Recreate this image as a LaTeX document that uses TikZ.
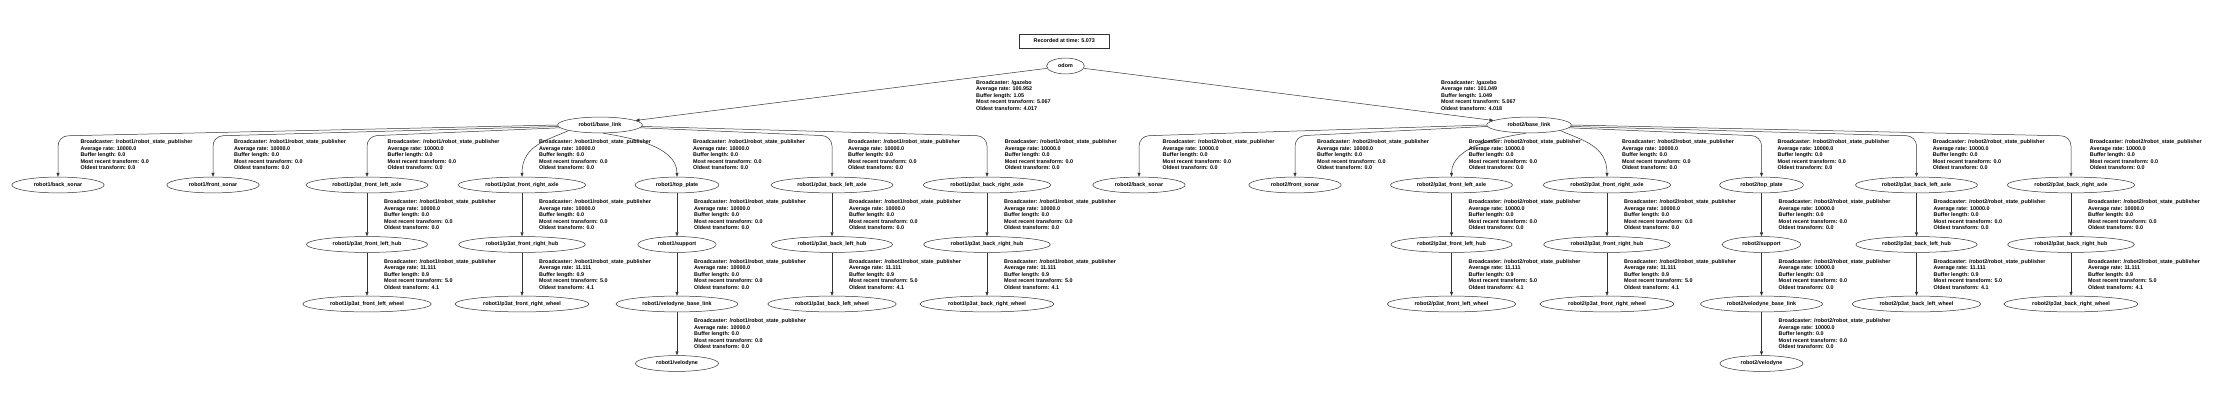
\documentclass[tikz,border=0pt]{standalone}
\usepackage{fontspec}
\newfontfamily\tffont{Liberation Sans}
\usetikzlibrary{arrows.meta,shapes.geometric}
\tikzset{
	tfnode/.style = {ellipse, draw=black!80, line width=0.5pt, inner xsep=8.5pt,
		inner ysep=3pt, text height=4pt, text depth=1.2pt,
		font=\tffont\fontsize{5.4}{6.5}\selectfont\bfseries},
	timebox/.style = {rectangle, draw=black!80, line width=0.5pt, inner sep=0pt,
		minimum width=90pt, minimum height=14pt,
		font=\tffont\fontsize{5.4}{6.5}\selectfont\bfseries},
	info/.style = {anchor=west, align=left, inner sep=0pt,
		font=\tffont\fontsize{5.4}{6.5}\selectfont\bfseries},
	tfedge/.style = {->, draw=black!80, line width=0.5pt}
}
\newcommand{\tfinfo}[5]{Broadcaster: #1\\Average rate: #2\\Buffer length: #3\\Most recent transform: #4\\Oldest transform: #5}

\begin{document}
\begin{tikzpicture}[>={Triangle[length=4pt,width=3pt]}, x=1pt, y=1pt]
\useasboundingbox (0,0) rectangle (2231,-406);
%----------------- Root --------------
\node (rec) [timebox] at (1064.3,-41) {Recorded at time: 5.073};
\node (odom) [tfnode, inner xsep=6pt] at (1065.5,-66) {odom};
\node (r1) [tfnode] at (600,-125) {robot1/base\_link};
\node (r2) [tfnode] at (1529,-125) {robot2/base\_link};
\draw[tfedge] (odom) -- (r1);
\draw[tfedge] (odom) -- (r2);
\node[info] at (976,-95.5) {\tfinfo{/gazebo}{100.952}{1.05}{5.067}{4.017}};
\node[info] at (1441,-95.5) {\tfinfo{/gazebo}{101.049}{1.049}{5.067}{4.018}};
%----------------- Children of base_link, far ones --------------
\foreach \r/\n/\t/\x/\a/\lx in {
	1/bs/back\_sonar/58/180/80.4,
	1/fs/front\_sonar/213/182/234,
	1/fl/p3at\_front\_left\_axle/367/184/387.5,
	1/bl/p3at\_back\_left\_axle/832/356/848,
	1/br/p3at\_back\_right\_axle/987/358/1004.6,
	2/bs/back\_sonar/1139/180/1162.5,
	2/fs/front\_sonar/1295/182/1317,
	2/tp/top\_plate/1761.5/356/1777.4,
	2/bl/p3at\_back\_left\_axle/1916.5/358/1932.6,
	2/br/p3at\_back\_right\_axle/2071/0/2089.7}
{
	\node (r\r-\n) [tfnode] at (\x,-185) {robot\r/\t};
	\draw[tfedge, rounded corners=10pt] (r\r.\a) -- (\x,-136) -- (r\r-\n);
	\node[info] at (\lx,-155) {\tfinfo{/robot\r/robot\_state\_publisher}{10000.0}{0.0}{0.0}{0.0}};
}
%----------------- Children of base_link, near ones --------------
\foreach \r/\n/\t/\x/\a/\o/\lx in {
	1/fr/p3at\_front\_right\_axle/522/190/205/539,
	1/tp/top\_plate/677/290/-10/693,
	2/fl/p3at\_front\_left\_axle/1451.5/250/190/1468.6,
	2/fr/p3at\_front\_right\_axle/1607/350/-25/1622}
{
	\node (r\r-\n) [tfnode] at (\x,-185) {robot\r/\t};
	\draw[tfedge] (r\r.\a) to[out=\o, in=90, out distance=22pt, in distance=32pt] (r\r-\n);
	\node[info] at (\lx,-155) {\tfinfo{/robot\r/robot\_state\_publisher}{10000.0}{0.0}{0.0}{0.0}};
}
%----------------- Hubs and wheels --------------
\foreach \r/\n/\w/\x in {1/fl/front\_left/367, 1/fr/front\_right/522,
	1/bl/back\_left/832, 1/br/back\_right/987, 2/fl/front\_left/1451.5,
	2/fr/front\_right/1607, 2/bl/back\_left/1916.5, 2/br/back\_right/2071}
{
	\node (r\r-\n-hub) [tfnode] at (\x,-244.5) {robot\r/p3at\_\w\_hub};
	\node (r\r-\n-wheel) [tfnode] at (\x,-304) {robot\r/p3at\_\w\_wheel};
	\draw[tfedge] (r\r-\n) -- (r\r-\n-hub);
	\draw[tfedge] (r\r-\n-hub) -- (r\r-\n-wheel);
	\node[info] at (\x+17,-214.75) {\tfinfo{/robot\r/robot\_state\_publisher}{10000.0}{0.0}{0.0}{0.0}};
	\node[info] at (\x+17,-274.25) {\tfinfo{/robot\r/robot\_state\_publisher}{11.111}{0.9}{5.0}{4.1}};
}
%----------------- Support and velodyne --------------
\foreach \r/\x in {1/677, 2/1761.5}
{
	\node (r\r-sup) [tfnode] at (\x,-244.5) {robot\r/support};
	\node (r\r-vbase) [tfnode] at (\x,-304) {robot\r/velodyne\_base\_link};
	\node (r\r-vel) [tfnode] at (\x,-363.5) {robot\r/velodyne};
	\draw[tfedge] (r\r-tp) -- (r\r-sup);
	\draw[tfedge] (r\r-sup) -- (r\r-vbase);
	\draw[tfedge] (r\r-vbase) -- (r\r-vel);
	\foreach \ly in {-214.75, -274.25, -333.75}
		\node[info] at (\x+17,\ly) {\tfinfo{/robot\r/robot\_state\_publisher}{10000.0}{0.0}{0.0}{0.0}};
}
\end{tikzpicture}
\end{document}
